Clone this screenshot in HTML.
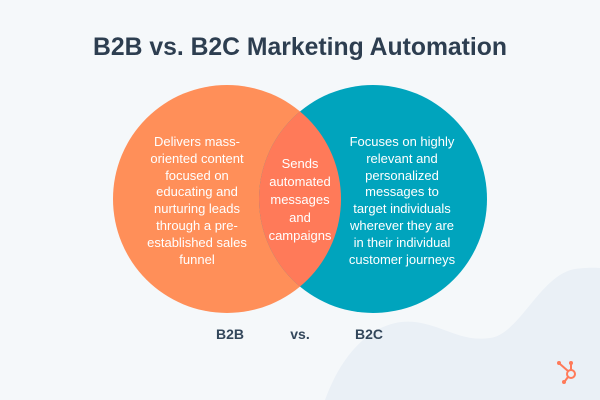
<!DOCTYPE html>
<html><head><style>
html,body{margin:0;padding:0;background:#f5f8fa;}
svg{display:block}
</style></head><body>
<svg width="600" height="400" viewBox="0 0 600 400" xmlns="http://www.w3.org/2000/svg">
<rect width="600" height="400" fill="#f5f8fa"/>
<path d="M325,400 C345,345 380,318 415,322 C445,326 460,342 490,338 C520,334 540,275 575,269 C590,267 600,268 600,268 L600,400 Z" fill="#eaf0f6"/>
<text x="300" y="55" text-anchor="middle" font-family="Liberation Sans, sans-serif" font-weight="bold" font-size="25" fill="#2d3e50" textLength="414" lengthAdjust="spacingAndGlyphs">B2B vs. B2C Marketing Automation</text>
<defs><clipPath id="c"><circle cx="373" cy="199" r="114"/></clipPath></defs>
<circle cx="227" cy="199" r="114" fill="#ff8f59"/>
<circle cx="373" cy="199" r="114" fill="#00a4bd"/>
<circle cx="227" cy="199" r="114" fill="#ff7a59" clip-path="url(#c)"/>
<g font-family="Liberation Sans, sans-serif" font-size="13" fill="#ffffff" text-anchor="middle">
<text x="197" y="146">Delivers mass-</text>
<text x="197" y="163">oriented content</text>
<text x="197" y="180">focused on</text>
<text x="197" y="196">educating and</text>
<text x="197" y="213">nurturing leads</text>
<text x="197" y="230">through a pre-</text>
<text x="197" y="247">established sales</text>
<text x="197" y="264">funnel</text>
<text x="300" y="168">Sends</text>
<text x="300" y="186">automated</text>
<text x="300" y="204">messages</text>
<text x="300" y="222">and</text>
<text x="300" y="240">campaigns</text>
<text x="402" y="146">Focuses on highly</text>
<text x="402" y="163">relevant and</text>
<text x="402" y="180">personalized</text>
<text x="402" y="196">messages to</text>
<text x="402" y="213">target individuals</text>
<text x="402" y="230">wherever they are</text>
<text x="402" y="247">in their individual</text>
<text x="402" y="264">customer journeys</text>
</g>
<g font-family="Liberation Sans, sans-serif" font-size="14" font-weight="bold" fill="#33475b" text-anchor="middle">
<text x="230" y="339">B2B</text>
<text x="300" y="339">vs.</text>
<text x="369" y="339">B2C</text>
</g>
<g stroke="#ff7a59" stroke-width="2" fill="none">
<circle cx="571" cy="374" r="4"/>
<line x1="571" y1="370" x2="571" y2="364"/>
<line x1="568" y1="371" x2="560" y2="364"/>
<line x1="568" y1="377" x2="565" y2="381"/>
</g>
<g fill="#ff7a59">
<circle cx="571" cy="363" r="2"/>
<circle cx="559" cy="363" r="2"/>
<circle cx="564" cy="382" r="2"/>
</g>
</svg>
</body></html>
